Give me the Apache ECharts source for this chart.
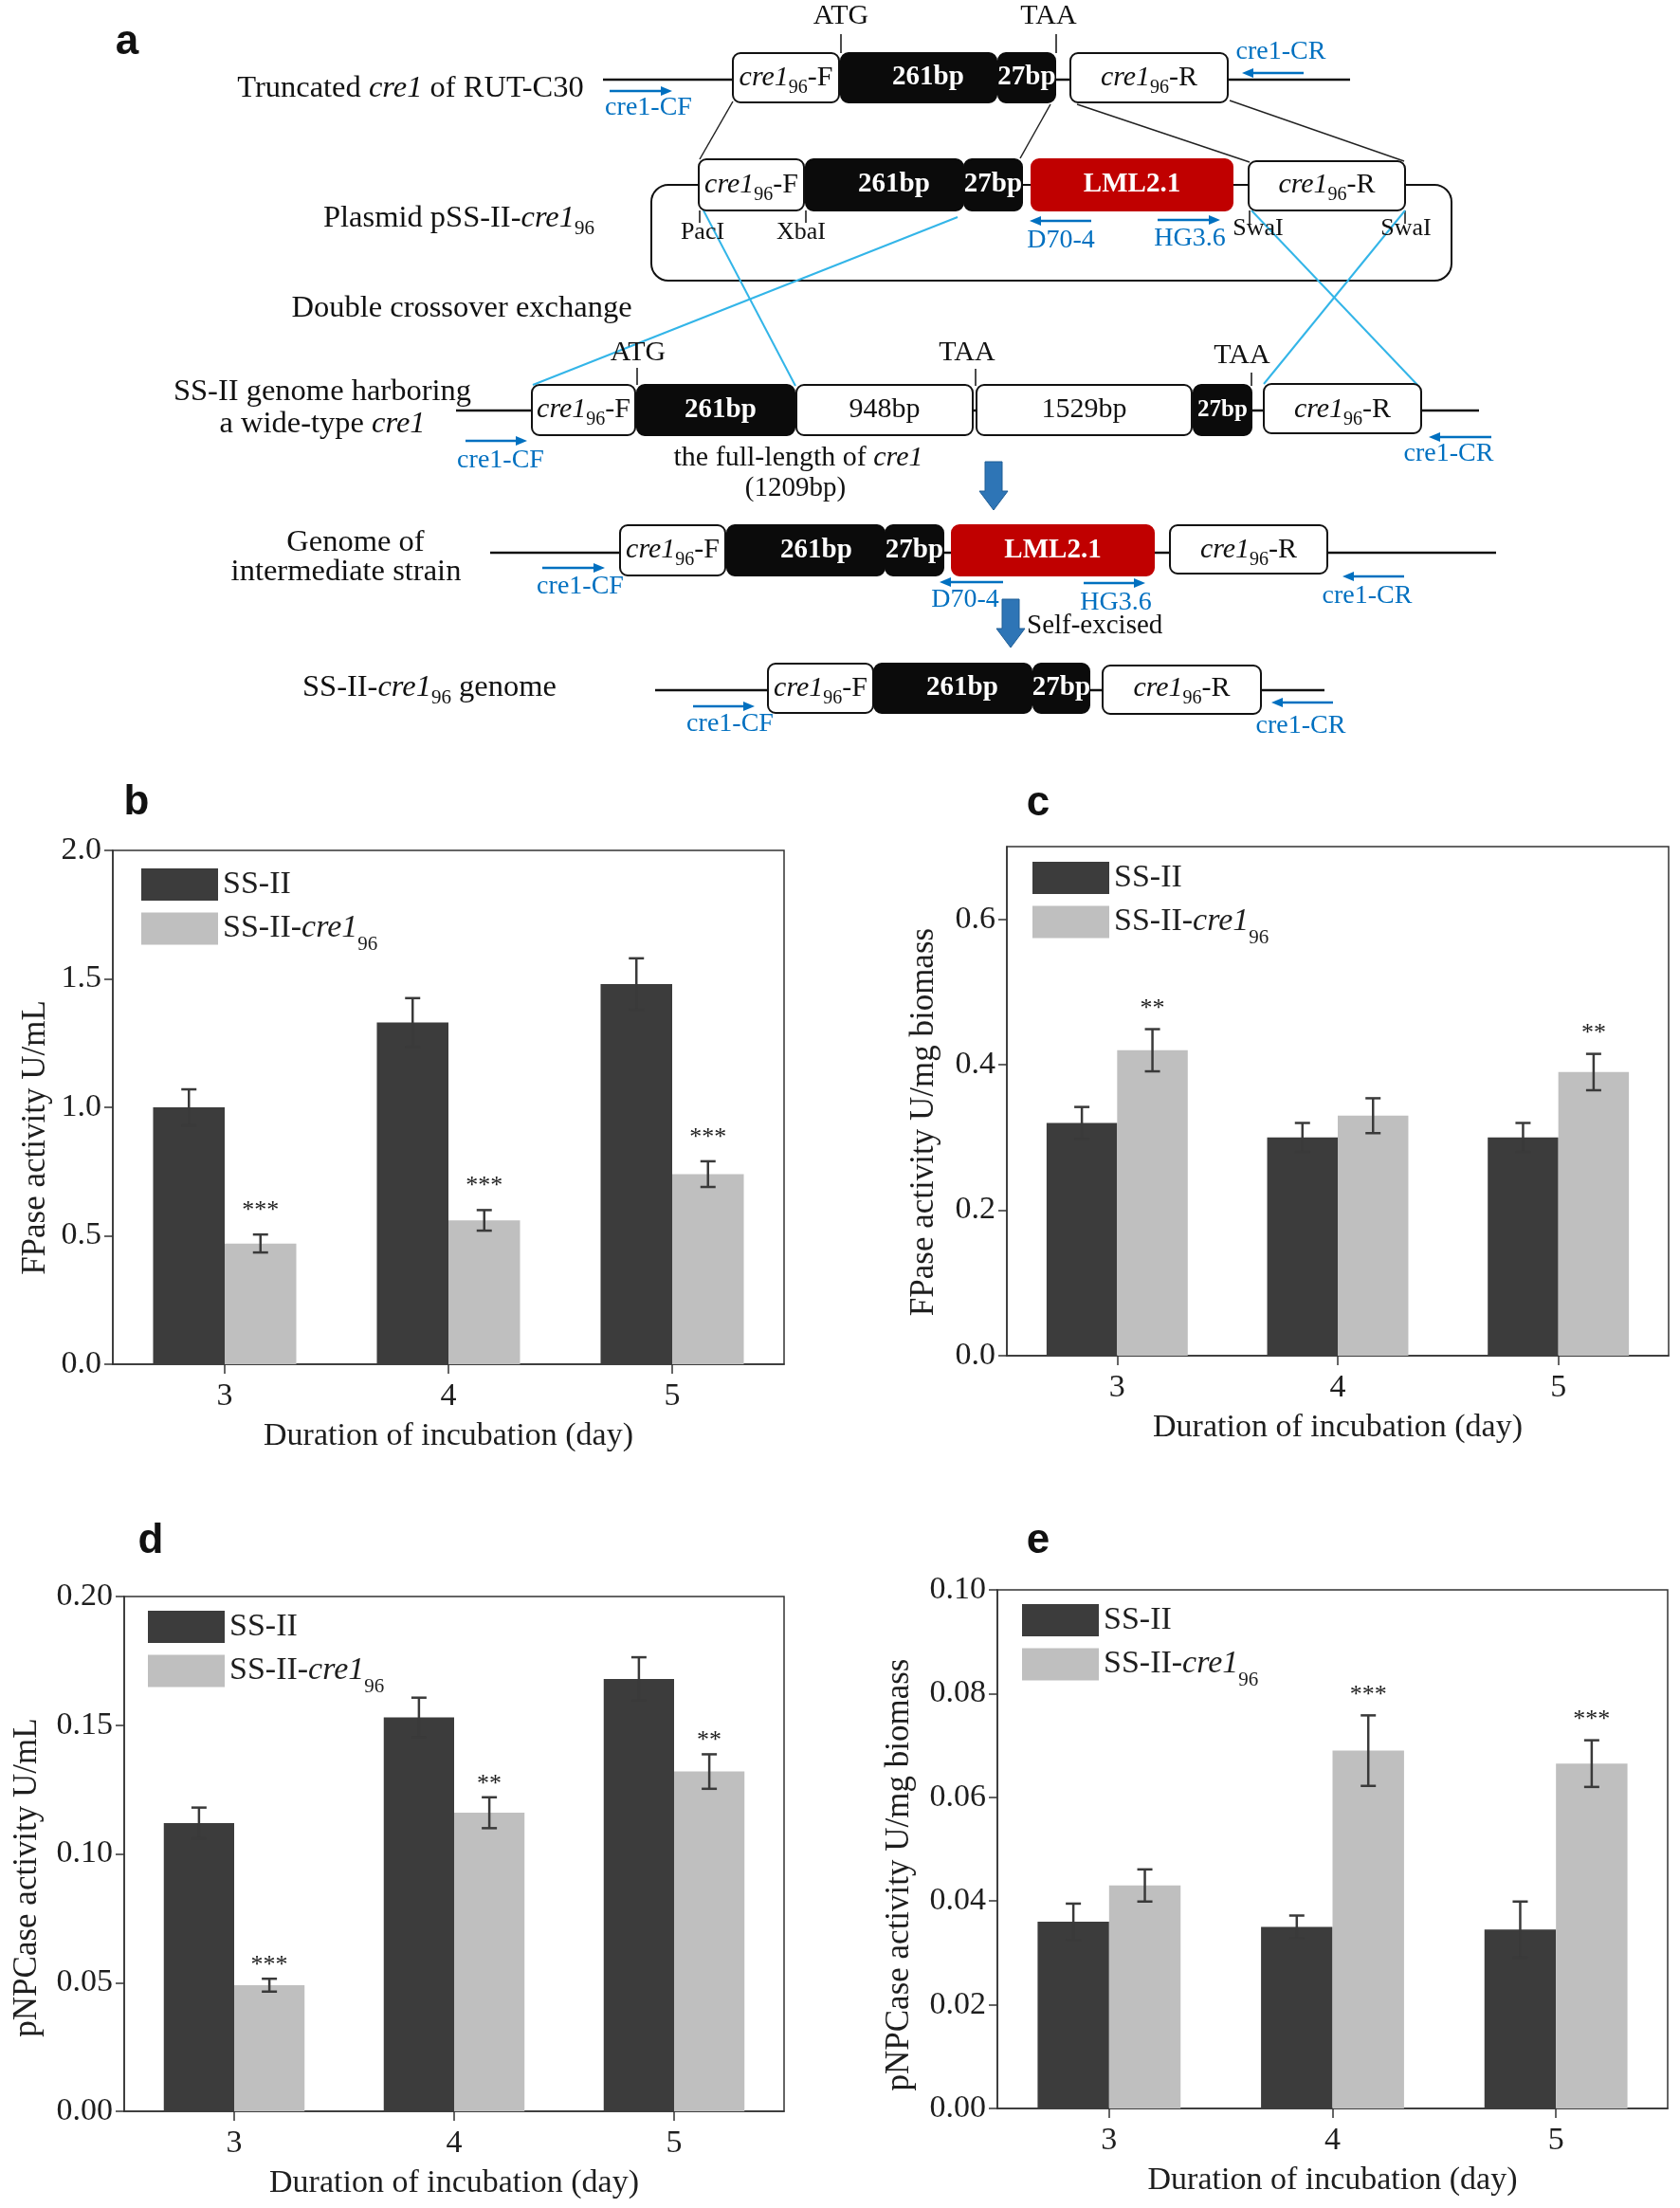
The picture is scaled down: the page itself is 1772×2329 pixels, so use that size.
<!DOCTYPE html>
<html><head><meta charset="utf-8">
<script src="https://cdn.jsdelivr.net/npm/echarts@6/dist/echarts.min.js"></script>
<style>html,body{margin:0;padding:0;background:#fff}#main{width:1772px;height:2329px}</style>
</head><body><div id="main"></div>
<script>
// ---------------- DATA ----------------
const days = ['3', '4', '5'];
const groupNames = ['SS-II', 'SS-II-cre1_96'];

// b: FPase activity U/mL
const fpaseMlSS = [1.00, 1.33, 1.48];
const fpaseMlSSErr = [0.07, 0.095, 0.10];
const fpaseMlCre = [0.47, 0.56, 0.74];
const fpaseMlCreErr = [0.035, 0.04, 0.05];
const fpaseMlSig = ['***', '***', '***'];
const fpaseMlTicks = ['0.0', '0.5', '1.0', '1.5', '2.0'];

// c: FPase activity U/mg biomass
const fpaseMgSS = [0.32, 0.30, 0.30];
const fpaseMgSSErr = [0.022, 0.02, 0.02];
const fpaseMgCre = [0.42, 0.33, 0.39];
const fpaseMgCreErr = [0.029, 0.024, 0.025];
const fpaseMgSig = ['**', '', '**'];
const fpaseMgTicks = ['0.0', '0.2', '0.4', '0.6'];
const fpaseMgAxisMax = 0.7;

// d: pNPCase activity U/mL
const pnpMlSS = [0.112, 0.153, 0.168];
const pnpMlSSErr = [0.006, 0.0077, 0.0084];
const pnpMlCre = [0.049, 0.116, 0.132];
const pnpMlCreErr = [0.0025, 0.006, 0.0067];
const pnpMlSig = ['***', '**', '**'];
const pnpMlTicks = ['0.00', '0.05', '0.10', '0.15', '0.20'];

// e: pNPCase activity U/mg biomass
const pnpMgSS = [0.036, 0.035, 0.0345];
const pnpMgSSErr = [0.0035, 0.0022, 0.0054];
const pnpMgCre = [0.043, 0.069, 0.0665];
const pnpMgCreErr = [0.0031, 0.0068, 0.0045];
const pnpMgSig = ['', '***', '***'];
const pnpMgTicks = ['0.00', '0.02', '0.04', '0.06', '0.08', '0.10'];

// ---------------- STYLE ----------------
const SERIF = "'Liberation Serif','Times New Roman',serif";
const SANS = "'Liberation Sans',Arial,sans-serif";
const DARK = '#3c3c3c', LIGHT = '#bfbfbf', AX = '#333', TXT = '#1e1e1e';
const BLUE = '#0070C0', XBLUE = '#33B5E8', RED = '#C00000';

// ---------------- PANEL a (schematic) ----------------
const els = [];
function L(x1, y1, x2, y2, c, w, z) {
  els.push({type: 'line', z: z || 1, silent: true, shape: {x1, y1, x2, y2}, style: {stroke: c || '#111', lineWidth: w || 2}});
}
function R(x1, x2, y1, y2, kind) {
  const fill = kind === 'w' ? '#fff' : kind === 'k' ? '#0b0b0b' : RED;
  const stroke = kind === 'w' ? '#111' : fill;
  els.push({type: 'rect', z: 5, silent: true, shape: {x: x1, y: y1, width: x2 - x1, height: y2 - y1, r: 8}, style: {fill, stroke, lineWidth: 2}});
}
const RICH = {
  n: {fontFamily: SERIF, fontSize: 30, lineHeight: 34, fill: '#111'},
  i: {fontFamily: SERIF, fontSize: 30, lineHeight: 34, fontStyle: 'italic', fill: '#111'},
  s: {fontFamily: SERIF, fontSize: 20, lineHeight: 20, padding: [21, 0, 0, 0], fill: '#111'},
  L: {fontFamily: SERIF, fontSize: 32.5, lineHeight: 36, fill: '#111'},
  Li: {fontFamily: SERIF, fontSize: 32.5, lineHeight: 36, fontStyle: 'italic', fill: '#111'},
  Ls: {fontFamily: SERIF, fontSize: 21, lineHeight: 21, padding: [22, 0, 0, 0], fill: '#111'}
};
function T(x, y, text, o) {
  o = o || {};
  const st = {
    text, x, y,
    fill: o.fill || '#111',
    fontFamily: o.family || SERIF,
    fontSize: o.size || 29,
    fontWeight: o.weight || 'normal',
    fontStyle: o.style || 'normal',
    align: o.align || 'center', verticalAlign: 'middle',
    textAlign: o.align || 'center', textVerticalAlign: 'middle'
  };
  if (o.rich) st.rich = RICH;
  els.push({type: 'text', z: 10, silent: true, style: st});
}
function primer(x1, x2, y, dir, label, lx, ly) {
  const head = dir > 0 ? x2 : x1, tail = dir > 0 ? x1 : x2;
  L(tail, y, head - dir * 8, y, BLUE, 2.5, 6);
  els.push({type: 'polygon', z: 6, silent: true, shape: {points: [[head, y], [head - dir * 12, y - 5], [head - dir * 12, y + 5]]}, style: {fill: BLUE}});
  T(lx, ly, label, {fill: BLUE, size: 28});
}
function bigArrow(cx, y1, y2) {
  const sw = 9, hw = 15, hl = 20;
  els.push({type: 'polygon', z: 6, silent: true,
    shape: {points: [[cx - sw, y1], [cx + sw, y1], [cx + sw, y2 - hl], [cx + hw, y2 - hl], [cx, y2], [cx - hw, y2 - hl], [cx - sw, y2 - hl]]},
    style: {fill: '#2E75B6', stroke: '#1F5E96', lineWidth: 1}});
}
const CREF = '{i|cre1}{s|96}{n|-F}';
const CRER = '{i|cre1}{s|96}{n|-R}';
// part: [x1, x2, kind, label, dy1, dy2, fontSize, labelDx]
function boxRow(y1, y2, parts) {
  const cy = (y1 + y2) / 2;
  parts.forEach(p => {
    R(p[0], p[1], y1 + (p[4] || 0), y2 + (p[5] || 0), p[2]);
    const cx = (p[0] + p[1]) / 2 + (p[7] || 0);
    if (p[2] === 'w' && p[3].indexOf('{') >= 0) T(cx, cy, p[3], {rich: true});
    else if (p[2] === 'w') T(cx, cy, p[3], {size: 30});
    else T(cx, cy, p[3], {fill: '#fff', weight: 'bold', size: p[6] || 29});
  });
}

// letter a
T(134, 45, 'a', {family: SANS, weight: 'bold', size: 44});

// Row 1: truncated cre1 of RUT-C30
T(433, 93, '{L|Truncated }{Li|cre1}{L| of RUT-C30}', {rich: true});
L(636, 84, 1424, 84, '#111', 2.5);
boxRow(56, 108, [[773, 885, 'w', CREF], [887, 1051, 'k', '261bp', 0, 0, 29, 10], [1053, 1113, 'k', '27bp'], [1129, 1295, 'w', CRER]]);
T(887, 17, 'ATG', {size: 30}); L(887, 36, 887, 56, '#111', 1.5);
T(1106, 17, 'TAA', {size: 30}); L(1114, 36, 1114, 56, '#111', 1.5);
primer(643, 709, 96, 1, 'cre1-CF', 684, 114);
primer(1310, 1375, 77, -1, 'cre1-CR', 1351, 55);

// connection lines row1 -> row2
L(773, 107, 738, 168, '#222', 1.5);
L(1108, 110, 1076, 167, '#222', 1.5);
L(1136, 110, 1318, 171, '#222', 1.5);
L(1297, 106, 1481, 170, '#222', 1.5);

// Row 2: plasmid
T(484, 230, '{L|Plasmid pSS-II-}{Li|cre1}{Ls|96}', {rich: true});
els.push({type: 'rect', z: 1, silent: true, shape: {x: 687, y: 195, width: 844, height: 101, r: 18}, style: {fill: 'none', stroke: '#111', lineWidth: 2}});
boxRow(168, 222, [[737, 848, 'w', CREF], [850, 1016, 'k', '261bp', 0, 0, 29, 10], [1017, 1078, 'k', '27bp'], [1088, 1300, 'r', 'LML2.1'], [1317, 1482, 'w', CRER, 2, 0]]);
L(738, 222, 738, 235, '#111', 1.5); T(741, 245, 'PacI', {size: 26});
L(850, 222, 850, 235, '#111', 1.5); T(845, 245, 'XbaI', {size: 26});
L(1318, 222, 1318, 236, '#111', 1.5); T(1327, 241, 'SwaI', {size: 26});
L(1482, 222, 1482, 236, '#111', 1.5); T(1483, 241, 'SwaI', {size: 26});
primer(1086, 1151, 233, -1, 'D70-4', 1119, 254);
primer(1221, 1287, 232, 1, 'HG3.6', 1255, 252);

// Double crossover
T(487, 325, 'Double crossover exchange', {size: 32.5});
L(1010, 229, 562, 406, XBLUE, 2, 2);
L(742, 222, 839, 407, XBLUE, 2, 2);
L(1320, 222, 1496, 407, XBLUE, 2, 2);
L(1482, 222, 1333, 405, XBLUE, 2, 2);

// Row 3: SS-II genome
T(340, 413, 'SS-II genome harboring', {size: 32.5});
T(340, 447, '{L|a wide-type }{Li|cre1}', {rich: true});
L(481, 433, 1560, 433, '#111', 2.5);
boxRow(406, 459, [[561, 670, 'w', CREF], [672, 838, 'k', '261bp', 0, 0, 29, 5], [840, 1026, 'w', '948bp'], [1030, 1257, 'w', '1529bp'], [1259, 1320, 'k', '27bp', 0, 0, 25], [1333, 1499, 'w', CRER, -1, -2]]);
T(673, 372, 'ATG', {size: 30}); L(672, 388, 672, 406, '#111', 1.5);
T(1020, 372, 'TAA', {size: 30}); L(1029, 389, 1029, 407, '#111', 1.5);
T(1310, 375, 'TAA', {size: 30}); L(1320, 393, 1320, 407, '#111', 1.5);
primer(491, 556, 465, 1, 'cre1-CF', 528, 486);
primer(1507, 1573, 461, -1, 'cre1-CR', 1528, 479);
T(842, 483, '{n|the full-length of }{i|cre1}', {rich: true});
T(839, 515, '(1209bp)', {size: 29});
bigArrow(1048, 487, 538);

// Row 4: intermediate strain
T(375, 572, 'Genome of', {size: 32.5});
T(365, 603, 'intermediate strain', {size: 32.5});
L(517, 583, 1578, 583, '#111', 2.5);
boxRow(554, 607, [[654, 765, 'w', CREF], [767, 933, 'k', '261bp', 0, 0, 29, 11], [934, 995, 'k', '27bp'], [1004, 1217, 'r', 'LML2.1'], [1234, 1400, 'w', CRER, 0, -2]]);
primer(572, 638, 599, 1, 'cre1-CF', 612, 619);
primer(991, 1058, 614, -1, 'D70-4', 1018, 633);
primer(1143, 1208, 615, 1, 'HG3.6', 1177, 636);
primer(1416, 1481, 608, -1, 'cre1-CR', 1442, 629);
bigArrow(1066, 632, 683);
T(1083, 660, 'Self-excised', {size: 29, align: 'left'});

// Row 5: SS-II-cre1_96 genome
T(453, 725, '{L|SS-II-}{Li|cre1}{Ls|96}{L| genome}', {rich: true});
L(691, 728, 1397, 728, '#111', 2.5);
boxRow(700, 752, [[810, 921, 'w', CREF], [922, 1088, 'k', '261bp', 0, 0, 29, 10], [1090, 1149, 'k', '27bp'], [1163, 1330, 'w', CRER, 2, 1]]);
primer(731, 796, 745, 1, 'cre1-CF', 770, 764);
primer(1341, 1406, 741, -1, 'cre1-CR', 1372, 766);

// ---------------- PANELS b-e ----------------
const panels = [
  {letter: 'b', lx: 144, ly: 847, grid: {left: 119, top: 897, width: 708, height: 542},
   ss: fpaseMlSS, ssErr: fpaseMlSSErr, cre: fpaseMlCre, creErr: fpaseMlCreErr, sig: fpaseMlSig,
   ticks: fpaseMlTicks, max: null, yName: 'FPase activity U/mL', yGap: 64, yShift: 32, legend: {left: 149, top: 916}, starOff: 25},
  {letter: 'c', lx: 1095, ly: 848, grid: {left: 1062, top: 893, width: 698, height: 537},
   ss: fpaseMgSS, ssErr: fpaseMgSSErr, cre: fpaseMgCre, creErr: fpaseMgCreErr, sig: fpaseMgSig,
   ticks: fpaseMgTicks, max: fpaseMgAxisMax, yName: 'FPase activity U/mg biomass', yGap: 70, yShift: 22, legend: {left: 1089, top: 909}, starOff: 21},
  {letter: 'd', lx: 159, ly: 1626, grid: {left: 131, top: 1684, width: 696, height: 543},
   ss: pnpMlSS, ssErr: pnpMlSSErr, cre: pnpMlCre, creErr: pnpMlCreErr, sig: pnpMlSig,
   ticks: pnpMlTicks, max: null, yName: 'pNPCase activity U/mL', yGap: 85, yShift: 25, legend: {left: 156, top: 1699}, starOff: 14},
  {letter: 'e', lx: 1095, ly: 1626, grid: {left: 1052, top: 1677, width: 707, height: 547},
   ss: pnpMgSS, ssErr: pnpMgSSErr, cre: pnpMgCre, creErr: pnpMgCreErr, sig: pnpMgSig,
   ticks: pnpMgTicks, max: null, yName: 'pNPCase activity U/mg biomass', yGap: 86, yShift: 27, legend: {left: 1078, top: 1692}, starOff: 21}
];

function errRender(sign, sig, starOff) {
  return function (params, api) {
    const ci = api.value(0), v = api.value(1), e = api.value(2);
    const band = api.size([1, 0])[0];
    const cx = api.coord([ci, 0])[0] + sign * band * 0.16;
    const top = api.coord([ci, v + e])[1];
    const bot = api.coord([ci, v - e])[1];
    const cap = 8;
    const ls = {stroke: '#3a3a3a', lineWidth: 2.5};
    const ch = [
      {type: 'line', shape: {x1: cx, y1: top, x2: cx, y2: bot}, style: ls},
      {type: 'line', shape: {x1: cx - cap, y1: top, x2: cx + cap, y2: top}, style: ls},
      {type: 'line', shape: {x1: cx - cap, y1: bot, x2: cx + cap, y2: bot}, style: ls}
    ];
    const s = sig ? sig[params.dataIndex] : '';
    if (s) {
      ch.push({type: 'text', style: {text: s, x: cx, y: top - starOff, fill: TXT, fontSize: 26, fontFamily: SERIF,
        align: 'center', verticalAlign: 'middle', textAlign: 'center', textVerticalAlign: 'middle'}});
    }
    return {type: 'group', children: ch};
  };
}

const legendRich = {
  n: {fontFamily: SERIF, fontSize: 34, color: TXT, lineHeight: 36},
  i: {fontFamily: SERIF, fontSize: 34, color: TXT, lineHeight: 36, fontStyle: 'italic'},
  s: {fontFamily: SERIF, fontSize: 21, color: TXT, lineHeight: 21, padding: [34, 0, 0, 0]}
};

const grid = [], xAxis = [], yAxis = [], series = [], legend = [];
panels.forEach((p, i) => {
  T(p.lx, p.ly, p.letter, {family: SANS, weight: 'bold', size: 44});
  const tickVals = p.ticks.map(Number);
  const interval = tickVals[1] - tickVals[0];
  const dec = (p.ticks[0].split('.')[1] || '').length;
  grid.push(Object.assign({show: true, borderColor: AX, borderWidth: 1.5, backgroundColor: 'transparent', outerBoundsMode: 'none', containLabel: false}, p.grid));
  xAxis.push({
    gridIndex: i, type: 'category', data: days,
    axisLine: {show: true, lineStyle: {color: AX, width: 1.5}},
    axisTick: {show: true, alignWithLabel: true, length: 10, lineStyle: {color: AX, width: 1.5}},
    axisLabel: {interval: 0, fontFamily: SERIF, fontSize: 34, color: TXT, margin: 17},
    splitLine: {show: false},
    name: 'Duration of incubation (day)', nameLocation: 'middle', nameGap: 59,
    nameTextStyle: {fontFamily: SERIF, fontSize: 34, color: TXT}
  });
  yAxis.push({
    gridIndex: i, type: 'value', min: tickVals[0], max: p.max != null ? p.max : tickVals[tickVals.length - 1], interval: interval,
    axisLine: {show: true, lineStyle: {color: AX, width: 1.5}},
    axisTick: {show: true, length: 9, lineStyle: {color: AX, width: 1.5}},
    axisLabel: {fontFamily: SERIF, fontSize: 34, color: TXT, margin: 12, showMaxLabel: p.max == null,
      formatter: v => v.toFixed(dec)},
    splitLine: {show: false},
    name: p.yName, nameLocation: 'middle', nameGap: p.yGap, nameRotate: 90,
    nameTextStyle: {fontFamily: SERIF, fontSize: 35, color: TXT, padding: [0, 2 * p.yShift, 0, 0]}
  });
  series.push({name: groupNames[0], type: 'bar', xAxisIndex: i, yAxisIndex: i, data: p.ss, barGap: '0%', barCategoryGap: '36%',
    itemStyle: {color: DARK}, emphasis: {disabled: true}, z: 2});
  series.push({name: groupNames[1], type: 'bar', xAxisIndex: i, yAxisIndex: i, data: p.cre, barGap: '0%', barCategoryGap: '36%',
    itemStyle: {color: LIGHT}, emphasis: {disabled: true}, z: 2});
  series.push({name: 'errA' + i, type: 'custom', xAxisIndex: i, yAxisIndex: i, z: 3, encode: {x: 0, y: 1},
    data: p.ss.map((v, k) => [k, v, p.ssErr[k]]), renderItem: errRender(-1, null, 0)});
  series.push({name: 'errB' + i, type: 'custom', xAxisIndex: i, yAxisIndex: i, z: 3, encode: {x: 0, y: 1},
    data: p.cre.map((v, k) => [k, v, p.creErr[k]]), renderItem: errRender(1, p.sig, p.starOff)});
  legend.push({
    orient: 'vertical', left: p.legend.left, top: p.legend.top, padding: 0, itemGap: 2,
    itemWidth: 81, itemHeight: 34, icon: 'rect', selectedMode: false,
    data: groupNames,
    formatter: name => name === groupNames[0] ? '{n|SS-II}' : '{n|SS-II-}{i|cre1}{s|96}',
    textStyle: {rich: legendRich}
  });
});

const chart = echarts.init(document.getElementById('main'), null, {renderer: 'canvas'});
chart.setOption({
  animation: false,
  backgroundColor: '#fff',
  grid, xAxis, yAxis, series, legend,
  graphic: {elements: els}
});
</script></body></html>
